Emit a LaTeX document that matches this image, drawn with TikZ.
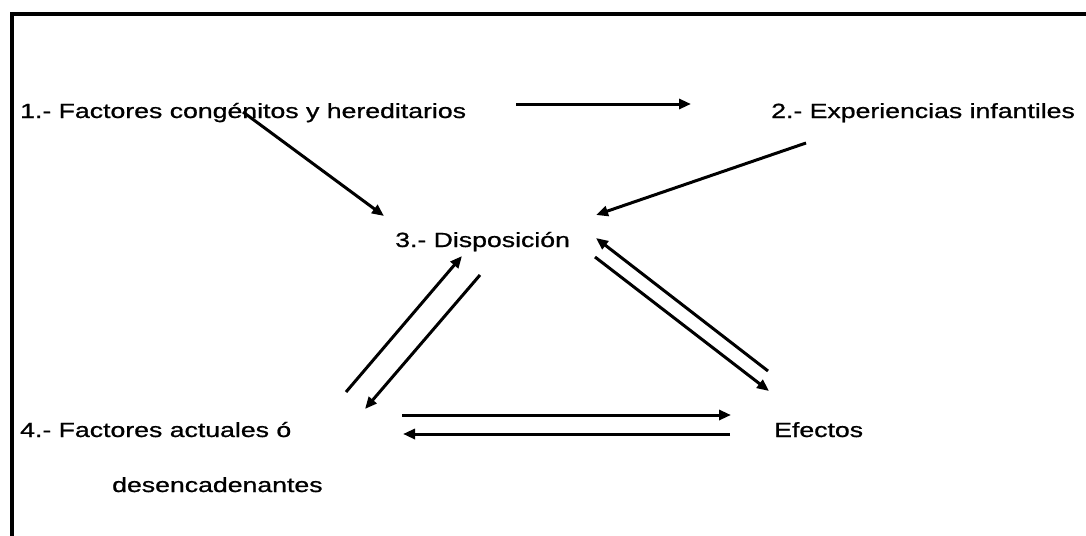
\documentclass[tikz,border=0pt]{standalone}
\usepackage{fontspec}
\setmainfont{Liberation Sans}[FakeBold=0.8]
\usetikzlibrary{arrows.meta}
\newcommand{\sx}[1]{\scalebox{1.30}[1.0]{#1}}
\begin{document}
\begin{tikzpicture}[x=1pt,y=-1pt,
  lbl/.style={anchor=base west, inner sep=0pt, font=\fontsize{20.5}{24}\selectfont},
  arr/.style={line width=3pt, -{Triangle[length=12pt,width=10pt]}},
  frameline/.style={line width=4pt}]
\useasboundingbox[fill=white] (0,0) rectangle (1086,535);
% frame
\coordinate (fbl) at (12,536);
\coordinate (ftl) at (12,14);
\coordinate (ftr) at (1087,14);
\draw[frameline] (fbl) -- (ftl) -- (ftr);
% texts
\node[lbl] (t1) at (20,118) {\sx{1.- Factores congénitos y hereditarios}};
\node[lbl] (t2) at (771,118) {\sx{2.- Experiencias infantiles}};
\node[lbl] (t3) at (395,247) {\sx{3.- Disposición}};
\node[lbl] (t4) at (20,437) {\sx{4.- Factores actuales ó}};
\node[lbl] (t4b) at (112,492) {\sx{desencadenantes}};
\node[lbl] (t5) at (774,437) {\sx{Efectos}};
% connector end points
\coordinate (a12s) at (516,104);
\coordinate (a12e) at (691,104);
\coordinate (a13s) at (243,112);
\coordinate (a13e) at (384,216);
\coordinate (a23s) at (806,143);
\coordinate (a23e) at (596,215);
\coordinate (a53s) at (768,371);
\coordinate (a53e) at (596,238);
\coordinate (a35s) at (595,257);
\coordinate (a35e) at (769,391);
\coordinate (a43s) at (346,392);
\coordinate (a43e) at (462,256);
\coordinate (a34s) at (480,275);
\coordinate (a34e) at (365,409);
\coordinate (a45s) at (402,415);
\coordinate (a45e) at (731,415);
\coordinate (a54s) at (730,434);
\coordinate (a54e) at (403,434);
% connectors
\draw[arr] (a12s) -- (a12e);
\draw[arr] (a13s) -- (a13e);
\draw[arr] (a23s) -- (a23e);
\draw[arr] (a53s) -- (a53e);
\draw[arr] (a35s) -- (a35e);
\draw[arr] (a43s) -- (a43e);
\draw[arr] (a34s) -- (a34e);
\draw[arr] (a45s) -- (a45e);
\draw[arr] (a54s) -- (a54e);
\end{tikzpicture}
\end{document}
